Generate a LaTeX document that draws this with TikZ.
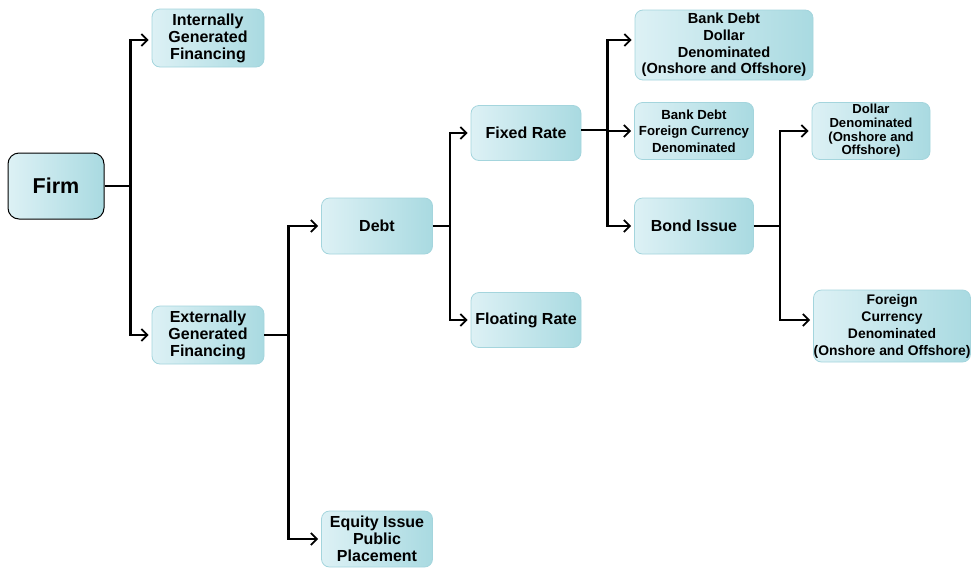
\documentclass[tikz,border=0pt]{standalone}
\usepackage{fontspec}
\setmainfont{Liberation Sans}
\usetikzlibrary{arrows.meta}
\definecolor{boxL}{HTML}{DDF1F5}
\definecolor{boxR}{HTML}{A9DAE1}
\definecolor{boxE}{HTML}{A4D5DD}
\begin{document}
\begin{tikzpicture}[x=1pt,y=-1pt,
  fbox/.style={draw=boxE, line width=0.8pt, rounded corners=8pt,
    left color=boxL, right color=boxR, align=center, inner sep=0pt,
    font=\bfseries\fontsize{16}{17}\selectfont},
  small/.style={font=\bfseries\fontsize{13.2}{16.5}\selectfont},
  tight/.style={font=\bfseries\fontsize{13.1}{13.6}\selectfont},
  mid/.style={font=\bfseries\fontsize{14.6}{16.7}\selectfont},
  link/.style={line width=2.4pt, shorten >=3pt,
    -{Straight Barb[length=6pt,width=12pt,line width=1.8pt]}}]
\useasboundingbox (0,0) rectangle (971,568);

% root
\node[fbox, draw=black, line width=1pt, rounded corners=11pt,
  minimum width=96pt, minimum height=66pt,
  font=\bfseries\fontsize{21.5}{24}\selectfont] (firm) at (56,186) {Firm};

% first level
\node[fbox, minimum width=112pt, minimum height=58pt] (int) at (208,38)
  {Internally\\Generated\\Financing};
\node[fbox, minimum width=112pt, minimum height=58pt] (ext) at (208,335)
  {Externally\\Generated\\Financing};

% second level
\node[fbox, minimum width=111pt, minimum height=56pt] (debt) at (377,226) {Debt};
\node[fbox, minimum width=111pt, minimum height=56pt] (eq) at (377,539)
  {Equity Issue\\Public\\Placement};

% third level
\node[fbox, minimum width=110pt, minimum height=55pt] (fix) at (526,133) {Fixed Rate};
\node[fbox, minimum width=110pt, minimum height=55pt] (flt) at (526,320) {Floating Rate};

% fourth level
\node[fbox, mid, minimum width=178pt, minimum height=70pt] (bdd) at (724,45)
  {Bank Debt\\Dollar\\Denominated\\(Onshore and Offshore)};
\node[fbox, small, minimum width=119pt, minimum height=57pt] (bdf) at (694,131)
  {Bank Debt\\Foreign Currency\\Denominated};
\node[fbox, minimum width=119pt, minimum height=56pt] (bond) at (694,226) {Bond Issue};

% fifth level
\node[fbox, tight, minimum width=118pt, minimum height=57pt] (dd) at (871,131)
  {Dollar\\Denominated\\(Onshore and\\Offshore)};
\node[fbox, mid, font=\bfseries\fontsize{13.9}{17}\selectfont,
  minimum width=157pt, minimum height=72pt] (fcd) at (892,326)
  {Foreign\\Currency\\Denominated\\(Onshore and Offshore)};

% connectors
\draw[link] (firm.east) -- ++(26,0) |- ([yshift=-2pt]int.west);
\draw[link] (firm.east) -- ++(26,0) |- (ext.west);
\draw[link] (ext.east) -- ++(24,0) |- (debt.west);
\draw[link] (ext.east) -- ++(24,0) |- (eq.west);
\draw[link] (debt.east) -- ++(17,0) |- (fix.west);
\draw[link] (debt.east) -- ++(17,0) |- (flt.west);
\draw[link] ([yshift=3pt]fix.east) -- ++(26,0) |- ([yshift=5pt]bdd.west);
\draw[link] ([yshift=3pt]fix.east) -- ++(26,0) |- (bdf.west);
\draw[link] ([yshift=3pt]fix.east) -- ++(26,0) |- (bond.west);
\draw[link] (bond.east) -- ++(26,0) |- (dd.west);
\draw[link] (bond.east) -- ++(26,0) |- ([yshift=6pt]fcd.west);
\end{tikzpicture}
\end{document}
